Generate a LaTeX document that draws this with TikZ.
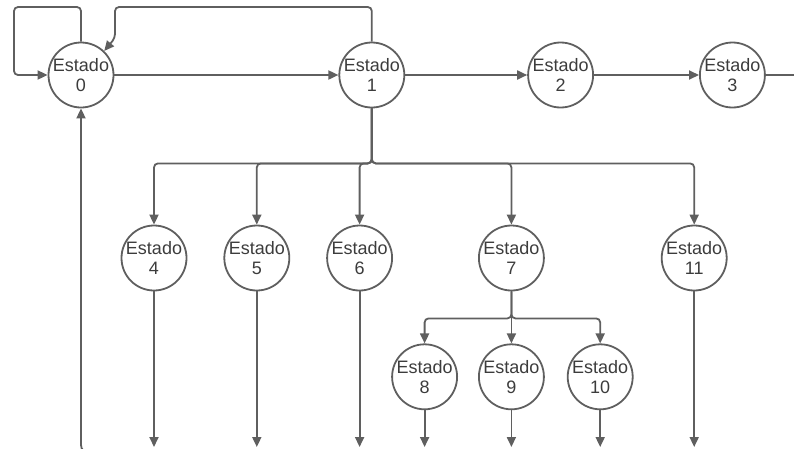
\documentclass[tikz,border=0pt]{standalone}
\usepackage{fontspec}
\setmainfont{Liberation Sans}
\usetikzlibrary{arrows.meta,positioning}
\definecolor{linegray}{HTML}{5F5F5F}
\definecolor{textgray}{HTML}{3C3C3C}

\begin{document}
\begin{tikzpicture}[
  x=1pt, y=-1pt,
  state/.style={draw=linegray, circle, line width=1.8pt, minimum size=65pt, inner sep=0pt, align=center, text=textgray, font=\fontsize{18}{20}\selectfont},
  link/.style={draw=linegray, line width=1.8pt, rounded corners=4pt},
  arrow/.style={link, -{Triangle[length=10pt, width=9pt]}}
]
\useasboundingbox (0,0) rectangle (794,448);

% top row
\node[state] (e0) at (81,75) {Estado\\0};
\node[state, right=224pt of e0] (e1) {Estado\\1};
\node[state, right=122pt of e1] (e2) {Estado\\2};
\node[state, right=105pt of e2] (e3) {Estado\\3};

% second row
\node[state] (e4) at (154,258) {Estado\\4};
\node[state, right=36pt of e4] (e5) {Estado\\5};
\node[state, right=36pt of e5] (e6) {Estado\\6};
\node[state, right=85pt of e6] (e7) {Estado\\7};
\node[state, right=116pt of e7] (e11) {Estado\\11};

% third row
\node[state, below=52pt of e7] (e9) {Estado\\9};
\node[state, left=20pt of e9] (e8) {Estado\\8};
\node[state, right=22pt of e9] (e10) {Estado\\10};

% forks and loose ends
\coordinate[below=55pt of e1] (fork1);
\coordinate[below=27pt of e7] (fork7);
\coordinate (out3) at (800,75);
\coordinate (floor) at (0,447);
\coordinate (back) at (120,453);
\coordinate (loop0) at (14,7);
\coordinate (top1) at (115,7);
\coordinate (drop1) at (115,38);

\draw[arrow] (e0) -- (e1);
\draw[arrow] (e1) -- (e2);
\draw[arrow] (e2) -- (e3);
\draw[link] (e3) -- (out3);

\draw[arrow] (e0.north) |- (loop0) |- (e0.west);
\draw[arrow] (e1.north) |- (top1) -- (drop1) -- (e0.46);

\foreach \n in {e4,e5,e6,e7,e11}
  \draw[arrow] (e1.south) -- (fork1) -| (\n.north);
\foreach \n in {e8,e10}
  \draw[arrow] (e7.south) -- (fork7) -| (\n.north);
\draw[arrow] (e7) -- (e9);

\foreach \n in {e4,e5,e6,e8,e9,e10,e11}
  \draw[arrow] (\n.south) -- (\n.south |- floor);
\draw[arrow, rounded corners=8pt] (back) -| (e0.south);
\end{tikzpicture}
\end{document}
